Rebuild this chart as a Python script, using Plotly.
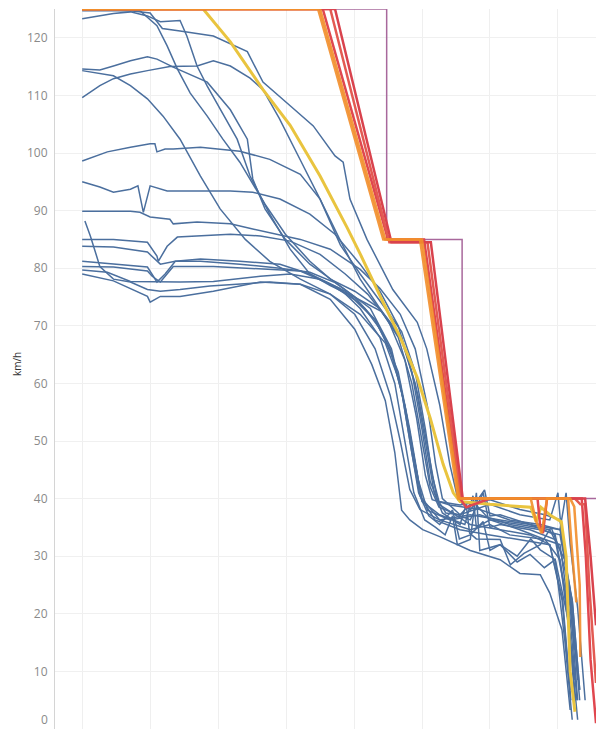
import plotly.graph_objects as go

# ---------------- data (distance along approach, speed km/h) ----------------
limit_x = [0, 448, 448, 559, 559, 756]
limit_v = [125, 125, 85, 85, 40, 40]

yellow_x = [0, 178, 218, 266, 306, 350, 390, 409, 443, 468, 493, 512, 531, 546, 556, 600, 660, 668, 675, 690, 705, 712, 718, 725]
yellow_v = [125, 125, 119.3, 111, 104.8, 96, 87, 82.5, 74, 68, 61, 54, 46, 41, 39.5, 39, 38.5, 36, 38.5, 37, 36, 30, 10, 3]

orange1_x = [0, 347, 443, 497, 553, 600, 660, 668, 676, 684, 700, 718, 724, 732, 733]
orange1_v = [125, 125, 85, 85, 40, 40, 40, 36, 34, 40, 40, 40, 38.6, 25, 12.5]
orange2_x = [0, 350, 446, 500, 555, 600, 700, 715, 720, 727]
orange2_v = [125, 125, 85, 85, 40, 40, 40, 40, 32, 22]

red1_x = [0, 354, 450, 503, 556, 565, 600, 670, 674, 678, 684, 700, 735, 741, 748, 756]
red1_v = [125, 125, 85, 85, 40, 38.5, 40, 40, 35, 34, 40, 40, 40, 30, 12, 1]
red2_x = [0, 365, 452, 508, 558, 600, 700, 725, 733, 740, 746, 756]
red2_v = [125, 125, 84.5, 84.5, 40, 40, 40, 40, 39, 39, 25, 8]
red3_x = [0, 372, 455, 513, 560, 600, 690, 712, 740, 748, 756]
red3_v = [125, 125, 84.5, 84.5, 40, 40, 40, 40, 40, 30, 18]

run01_x = [0, 71, 100, 118, 144, 193, 243, 266, 306, 340, 372, 384, 394, 419, 457, 493, 507, 526, 541, 553, 571, 592, 600, 615, 659, 703, 712, 718, 729, 740]
run01_v = [124.7, 124.7, 124.3, 121.6, 121.2, 120.3, 117.6, 112.3, 108.2, 104.7, 99.5, 98.4, 92, 85, 76.3, 70.6, 66, 56.3, 45.9, 39.8, 38, 41.5, 37, 37.2, 35.5, 34.6, 41, 32, 21, 5]
run02_x = [0, 46, 71, 96, 115, 144, 154, 169, 184, 203, 228, 247, 276, 306, 335, 365, 400, 440, 470, 490, 505, 518, 530, 556, 565, 570, 580, 615, 630, 650, 674, 690, 703, 721, 732]
run02_v = [123.3, 124.2, 124.5, 123.8, 122.8, 123, 120.3, 115.1, 111.6, 107.7, 102.4, 96, 89.4, 83.3, 79, 77, 75, 72.5, 67.5, 60, 50, 41, 37.5, 35.5, 39, 34, 33, 32.9, 28.5, 30.5, 32, 35, 31.1, 22.4, 6.8]
run03_x = [0, 85, 110, 125, 140, 159, 184, 207, 232, 247, 269, 299, 335, 365, 401, 438, 470, 494, 510, 522, 535, 556, 575, 600, 644, 688, 710, 725]
run03_v = [124.9, 124.7, 122.1, 118.6, 114.6, 110.4, 106.4, 102.4, 98.4, 95.5, 91.1, 85.9, 81.2, 78.1, 76, 73, 68, 58, 48, 40, 37.5, 37.2, 39.5, 36.3, 35.5, 34.6, 29.4, 13.7]
run04_x = [0, 26, 46, 71, 96, 110, 134, 163, 184, 218, 243, 251, 269, 299, 335, 379, 424, 455, 475, 490, 500, 526, 571, 600, 629, 681, 703, 718]
run04_v = [114.6, 114.4, 115.1, 116, 116.7, 116.3, 114.9, 113.4, 112.3, 107.5, 102.4, 95.5, 90.3, 85, 80.7, 77, 73, 66, 56, 46, 40, 36.3, 34.6, 35.5, 33.7, 32.9, 29.4, 15.5]
run05_x = [0, 26, 46, 71, 96, 129, 169, 193, 218, 247, 266, 290, 320, 350, 380, 409, 440, 470, 490, 505, 515, 525, 556, 600, 644, 681, 703, 718, 729]
run05_v = [109.6, 111.7, 112.9, 113.7, 114.3, 115, 115.1, 116, 115.1, 113, 111, 106, 99, 92, 84, 79, 74, 69, 62, 52, 44, 39.5, 38.9, 39.8, 38.1, 37.2, 36.3, 22.4, 5]
run06_x = [0, 46, 71, 96, 119, 144, 174, 203, 240, 276, 321, 365, 409, 446, 468, 482, 495, 510, 526, 545, 555, 571, 590, 600, 615, 640, 659, 680, 696, 715, 729]
run06_v = [114.3, 113.4, 111.7, 109.4, 106.4, 102.4, 96, 90.3, 85, 81.2, 78.1, 75.5, 72, 67, 60, 50, 41, 37, 35.5, 38, 33, 33.7, 36, 31, 32, 29, 30.3, 28, 29.4, 19, 1.6]
run07_x = [0, 37, 71, 100, 107, 110, 122, 134, 174, 232, 276, 321, 350, 379, 409, 438, 465, 485, 500, 512, 525, 571, 590, 600, 615, 659, 696, 710, 725]
run07_v = [98.6, 100.2, 101, 101.6, 101.6, 100.2, 100.7, 100.7, 101, 100.3, 98.9, 96.3, 92, 85, 78.1, 73, 68, 60, 50, 42, 38.5, 36.3, 41, 35, 35.5, 34.6, 32.9, 24.2, 8.5]
run08_x = [0, 26, 46, 71, 82, 90, 100, 125, 169, 218, 251, 291, 335, 372, 409, 438, 465, 485, 500, 512, 525, 571, 615, 659, 688, 706, 718]
run08_v = [95, 94.1, 93.2, 93.7, 94.3, 89.7, 94.3, 93.4, 93.4, 93.4, 93.2, 92, 89.4, 85.9, 80.7, 76, 70, 62, 52, 43, 39, 35.5, 34.6, 33.7, 32, 22.4, 6.8]
run09_x = [0, 71, 85, 100, 129, 134, 169, 218, 251, 291, 321, 365, 409, 438, 468, 490, 508, 520, 530, 556, 600, 644, 688, 700, 706, 722, 732]
run09_v = [89.9, 89.9, 89.7, 88.9, 88.5, 87.7, 88, 87.7, 86.8, 85.7, 85, 83.3, 79.8, 76.5, 72, 66, 56, 46, 40, 37.2, 39, 37.2, 36.3, 41, 33, 19, 5]
run10_x = [0, 46, 96, 110, 112, 125, 140, 169, 218, 262, 306, 350, 387, 420, 450, 475, 492, 505, 515, 541, 585, 629, 674, 703, 718, 729]
run10_v = [85, 85, 84.5, 82.1, 81.2, 83.8, 85.4, 85.6, 85.9, 85.6, 84.7, 82.4, 79, 75.5, 71, 64, 54, 44, 39.8, 38.9, 38.1, 36.3, 35.5, 34.6, 24.3, 8.5]
run11_x = [0, 46, 96, 115, 137, 174, 232, 291, 335, 379, 409, 438, 460, 475, 488, 504, 520, 534, 545, 552, 571, 580, 585, 615, 640, 660, 674, 696, 710, 721]
run11_v = [83.8, 83.7, 82.8, 80.7, 81.2, 81.6, 81.2, 80.7, 79, 76.5, 73, 68, 60, 50, 41, 36.3, 35, 33.7, 37, 32, 32.9, 41, 31, 32, 30, 33, 31.1, 29.4, 15.5, 1.6]
run12_x = [4, 12, 26, 46, 71, 96, 115, 144, 188, 232, 276, 321, 365, 401, 431, 453, 468, 482, 497, 526, 571, 615, 659, 696, 713, 725]
run12_v = [88.2, 85.6, 80.3, 78.1, 77.6, 76.3, 76, 76.3, 76.9, 77.2, 77.6, 77.2, 75.5, 72, 66, 58, 50, 41.6, 38.1, 36.3, 37.2, 36.3, 35.5, 33.7, 22.4, 5]
run13_x = [0, 46, 96, 103, 115, 134, 193, 262, 321, 365, 401, 431, 456, 475, 490, 500, 526, 563, 575, 580, 600, 644, 681, 703, 718, 728]
run13_v = [80.3, 80.2, 79.5, 78.6, 77.6, 80.3, 80.3, 79.8, 79.5, 77.2, 74.5, 71, 65, 56, 46, 39.5, 37.2, 35.5, 40.5, 35, 36.3, 34.6, 32.9, 32, 19, 5]
run14_x = [0, 46, 96, 100, 115, 144, 193, 262, 321, 365, 401, 426, 446, 460, 470, 482, 501, 526, 571, 615, 644, 674, 688, 706, 718]
run14_v = [79, 77.8, 75.1, 74.1, 75.1, 75.1, 76, 77.6, 77.2, 74.6, 69.4, 63.3, 57, 48, 38, 36.3, 34.6, 33.4, 31, 29.4, 27, 26.8, 23.6, 17.2, 3.3]
run15_x = [0, 37, 71, 115, 144, 193, 262, 306, 350, 387, 416, 441, 465, 482, 495, 508, 541, 585, 629, 674, 703, 721, 732]
run15_v = [79.7, 79.3, 77.7, 77.6, 77.6, 77.7, 78.6, 79, 78.1, 76, 73, 69, 62, 52, 43, 38, 36.3, 37.2, 35.5, 34.6, 33.7, 22.4, 6.8]
run16_x = [0, 46, 96, 110, 122, 137, 174, 232, 291, 335, 372, 401, 431, 453, 471, 485, 497, 519, 556, 600, 644, 688, 707, 719]
run16_v = [81.2, 80.7, 80.2, 77.6, 79, 81.2, 81.2, 80.7, 80, 79.3, 77.5, 75, 71, 66, 58, 48, 40.5, 36.3, 34.6, 33.7, 32.9, 32, 22.4, 5]

y_ticks = [10, 20, 30, 40, 50, 60, 70, 80, 90, 100, 110, 120]
x_grid = [0, 100, 200, 300, 400, 500, 600, 700]

# ---------------- figure ----------------
BLUE = "#4b6f9e"
fig = go.Figure()

blue_runs = [
    (run01_x, run01_v), (run02_x, run02_v), (run03_x, run03_v), (run04_x, run04_v),
    (run05_x, run05_v), (run06_x, run06_v), (run07_x, run07_v), (run08_x, run08_v),
    (run09_x, run09_v), (run10_x, run10_v), (run11_x, run11_v), (run12_x, run12_v),
    (run13_x, run13_v), (run14_x, run14_v), (run15_x, run15_v), (run16_x, run16_v),
]
for bx, bv in blue_runs:
    fig.add_trace(go.Scatter(x=bx, y=bv, mode="lines",
                             line=dict(color=BLUE, width=1.5), hoverinfo="skip"))

fig.add_trace(go.Scatter(x=limit_x, y=limit_v, mode="lines",
                         line=dict(color="#a8689c", width=1.5), hoverinfo="skip"))
fig.add_trace(go.Scatter(x=yellow_x, y=yellow_v, mode="lines",
                         line=dict(color="#e9c43f", width=3), hoverinfo="skip"))
for rx, rv, col in [(red1_x, red1_v, "#e0474f"), (red2_x, red2_v, "#e35a52"),
                    (red3_x, red3_v, "#d9424d")]:
    fig.add_trace(go.Scatter(x=rx, y=rv, mode="lines",
                             line=dict(color=col, width=2.5), hoverinfo="skip"))
for ox, ov in [(orange2_x, orange2_v), (orange1_x, orange1_v)]:
    fig.add_trace(go.Scatter(x=ox, y=ov, mode="lines", opacity=0.9,
                             line=dict(color="#f28e2b", width=2.5), hoverinfo="skip"))

fig.add_annotation(text="km/h", textangle=-90, xref="paper", yref="paper",
                   x=-0.07, y=0.507, xanchor="center", yanchor="middle",
                   showarrow=False, font=dict(family="Open Sans", size=10, color="#333333"))
fig.add_annotation(text="0", xref="paper", yref="y", x=0, y=0,
                   xanchor="right", yanchor="middle", xshift=-5, yshift=10,
                   showarrow=False, font=dict(family="Open Sans", size=12, color="#8a8a8a"))

fig.update_layout(
    width=596, height=729,
    margin=dict(l=55, r=0, t=9, b=0),
    paper_bgcolor="white", plot_bgcolor="white",
    showlegend=False,
    font=dict(family="Open Sans", size=12, color="#8a8a8a"),
    xaxis=dict(range=[-40, 756], showticklabels=False, showline=False, zeroline=False,
               tickvals=x_grid, showgrid=True, gridcolor="#efefef", gridwidth=1, ticks=""),
    yaxis=dict(range=[0, 125], tickvals=y_ticks, showgrid=True, gridcolor="#f0f0f0",
               gridwidth=1, zeroline=False, showline=True, linecolor="#d4d4d4", linewidth=1,
               ticks="", ticklabelstandoff=4,
               tickfont=dict(family="Open Sans", size=12, color="#8a8a8a")),
)

fig.write_html("out.html")
